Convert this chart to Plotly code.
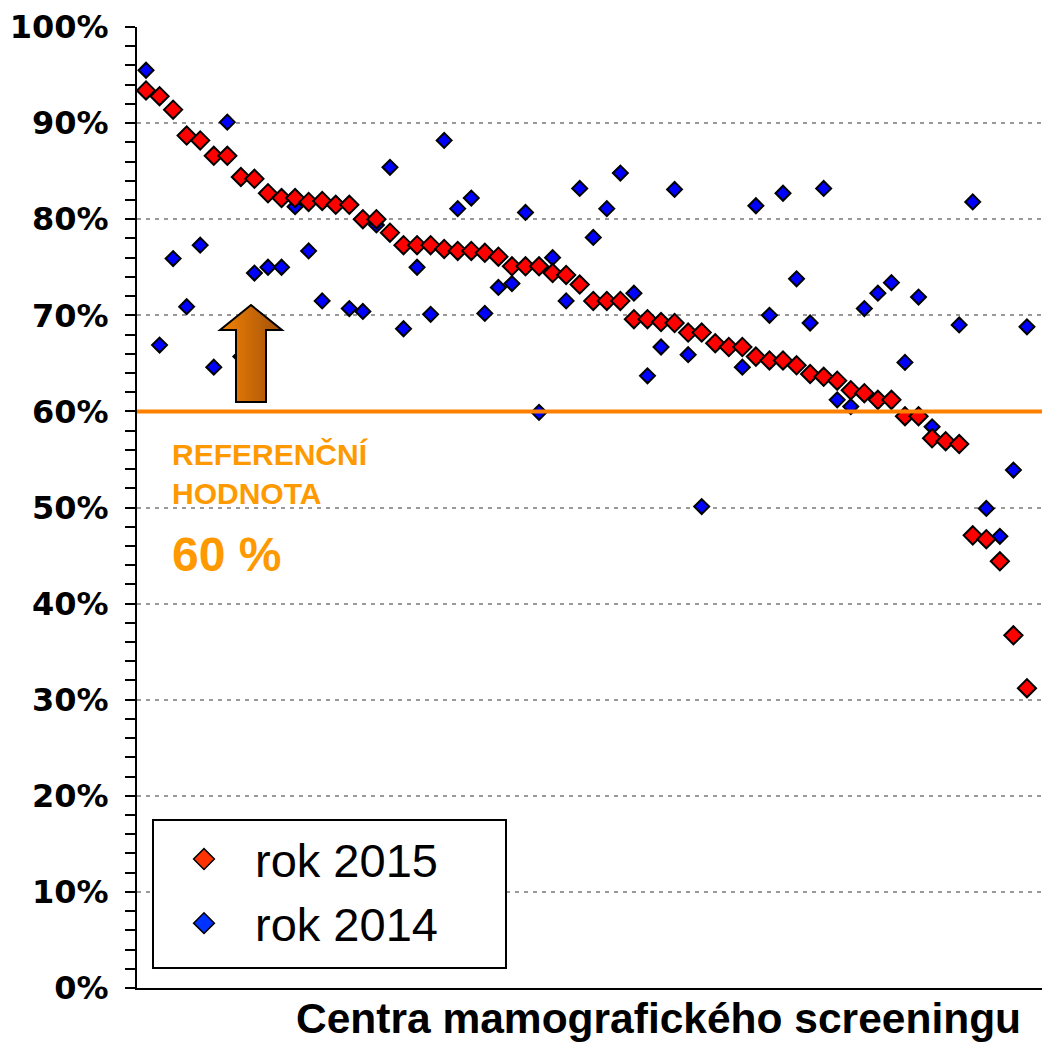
import plotly.graph_objects as go

# ---------------- data ----------------
centers = list(range(1, 67))
rok_2015 = [93.4, 92.8, 91.4, 88.7, 88.2, 86.6, 86.6, 84.4, 84.2, 82.7,
            82.2, 82.2, 81.8, 81.9, 81.5, 81.5, 80.0, 80.0, 78.6, 77.3,
            77.3, 77.3, 76.9, 76.7, 76.7, 76.5, 76.1, 75.1, 75.1, 75.1,
            74.4, 74.2, 73.2, 71.5, 71.5, 71.5, 69.6, 69.6, 69.3, 69.2,
            68.2, 68.2, 67.1, 66.7, 66.7, 65.7, 65.3, 65.3, 64.8, 63.9,
            63.6, 63.2, 62.2, 61.9, 61.2, 61.2, 59.5, 59.5, 57.2, 56.9,
            56.6, 47.1, 46.7, 44.4, 36.7, 31.2]
rok_2014 = [95.5, 66.9, 75.9, 70.9, 77.3, 64.6, 90.1, 65.7, 74.4, 75.0,
            75.0, 81.3, 76.7, 71.5, 81.6, 70.7, 70.4, 79.4, 85.4, 68.6,
            75.0, 70.1, 88.2, 81.1, 82.2, 70.2, 72.9, 73.3, 80.7, 59.9,
            76.0, 71.5, 83.2, 78.1, 81.1, 84.8, 72.3, 63.7, 66.7, 83.1,
            65.9, 50.1, None, None, 64.6, 81.4, 70.0, 82.7, 73.8, 69.2,
            83.2, 61.2, 60.5, 70.7, 72.3, 73.4, 65.1, 71.9, 58.4, None,
            69.0, 81.8, 49.9, 47.0, 53.9, 68.8]
y_ticks = list(range(0, 101, 10))
y_ticklabels = [f"{v}%" for v in y_ticks]
reference_value = 60
series_names = ["rok 2015", "rok 2014"]

# page geometry (window pixels); the html body has an 8px margin
OFF = 8
WIN_W, WIN_H = 1050, 1043
PL, PR, PT, PB = 137, 1050, 27, 988          # plot area in window pixels
W, H = WIN_W - OFF, WIN_H - OFF
ML, MT = PL - OFF, PT - OFF
MR, MB = 0, H - (PB - OFF)
PW, PH = PR - PL, PB - PT


def to_paper(px, py):
    return (px - PL) / PW, (PB - py) / PH


fig = go.Figure()

# 2014 drawn first (underneath)
fig.add_trace(go.Scatter(
    x=centers, y=rok_2014, mode="markers", showlegend=False,
    marker=dict(symbol="diamond", size=11.5, color="#0000FF",
                line=dict(color="black", width=2)),
))
fig.add_trace(go.Scatter(
    x=centers, y=rok_2015, mode="markers", showlegend=False,
    marker=dict(symbol="diamond", size=14, color="#FF0000",
                line=dict(color="black", width=2)),
))
# legend entries
fig.add_trace(go.Scatter(
    x=[None], y=[None], mode="markers", name=series_names[0],
    marker=dict(symbol="diamond", size=16, color="#FF3300",
                line=dict(color="black", width=1.5)),
))
fig.add_trace(go.Scatter(
    x=[None], y=[None], mode="markers", name=series_names[1],
    marker=dict(symbol="diamond", size=16, color="#0033FF",
                line=dict(color="black", width=1.5)),
))

shapes = []
# reference line
shapes.append(dict(type="line", xref="paper", x0=0, x1=1, yref="y",
                   y0=reference_value, y1=reference_value,
                   line=dict(color="#FF8000", width=4), layer="above"))

# gradient arrow made of vertical strips
tip_x, tip_y = 251, 305
head_y, head_l, head_r = 330, 220, 282
shaft_l, shaft_r, shaft_b = 236, 266, 402


def top_y(x):
    return tip_y + abs(x - tip_x) / (tip_x - head_l) * (head_y - tip_y)


c0 = (245, 132, 5)
c1 = (160, 80, 10)
breaks = []
for a, b in [(head_l, shaft_l), (shaft_l, tip_x), (tip_x, shaft_r), (shaft_r, head_r)]:
    n = 6
    for i in range(n):
        breaks.append((a + (b - a) * i / n, a + (b - a) * (i + 1) / n))
for xa, xb in breaks:
    t = ((xa + xb) / 2 - head_l) / (head_r - head_l)
    col = "rgb({},{},{})".format(*[int(round(c0[k] + (c1[k] - c0[k]) * t)) for k in range(3)])
    bottom = shaft_b if (xa >= shaft_l - 0.01 and xb <= shaft_r + 0.01) else head_y
    pts = [(xa, top_y(xa)), (xb, top_y(xb)), (xb, bottom), (xa, bottom)]
    pp = [to_paper(*p) for p in pts]
    path = "M" + " L".join(f"{x:.5f},{y:.5f}" for x, y in pp) + " Z"
    shapes.append(dict(type="path", xref="paper", yref="paper", path=path,
                       fillcolor=col, line=dict(color=col, width=1), layer="above"))
outline = [(head_l, head_y), (tip_x, tip_y), (head_r, head_y), (shaft_r, head_y),
           (shaft_r, shaft_b), (shaft_l, shaft_b), (shaft_l, head_y)]
pp = [to_paper(*p) for p in outline]
shapes.append(dict(type="path", xref="paper", yref="paper",
                   path="M" + " L".join(f"{x:.5f},{y:.5f}" for x, y in pp) + " Z",
                   line=dict(color="black", width=2), layer="above"))

# legend frame
lx0, ly0 = to_paper(153, 968)
lx1, ly1 = to_paper(506, 820)
shapes.append(dict(type="rect", xref="paper", yref="paper",
                   x0=lx0, y0=ly0, x1=lx1, y1=ly1,
                   fillcolor="white", line=dict(color="black", width=2), layer="above"))

annotations = [
    dict(text="<b>REFERENČNÍ<br>HODNOTA</b>", xref="paper", yref="y",
         x=to_paper(170, 0)[0], y=53.5, xanchor="left", yanchor="middle",
         align="left", showarrow=False,
         font=dict(family="Liberation Sans, Arial", size=30, color="#FF9900")),
    dict(text="<b>60 %</b>", xref="paper", yref="y",
         x=to_paper(170, 0)[0], y=45.1, xanchor="left", yanchor="middle",
         showarrow=False,
         font=dict(family="Liberation Sans, Arial", size=48, color="#FF9900")),
    dict(text="<b>Centra mamografického screeningu</b>", xref="paper", yref="paper",
         x=to_paper(1023, 0)[0], y=to_paper(0, 1018)[1], xanchor="right", yanchor="middle",
         showarrow=False,
         font=dict(family="Liberation Sans, Arial", size=42.5, color="black")),
]

fig.update_layout(
    width=W, height=H,
    margin=dict(l=ML, r=MR, t=MT, b=MB, pad=0),
    paper_bgcolor="white", plot_bgcolor="white",
    shapes=shapes, annotations=annotations,
    showlegend=True,
    legend=dict(x=to_paper(153, 0)[0], y=to_paper(0, 822)[1],
                xanchor="left", yanchor="top",
                bgcolor="rgba(0,0,0,0)", borderwidth=0,
                itemwidth=92,
                font=dict(family="Liberation Sans, Arial", size=47, color="black")),
    xaxis=dict(range=[0.336, 67.7], showticklabels=False, ticks="",
               showgrid=False, zeroline=False,
               showline=True, linecolor="black", linewidth=2),
    yaxis=dict(range=[0, 100], tickvals=y_ticks, ticktext=y_ticklabels,
               ticks="outside", ticklen=10, tickwidth=1.5, tickcolor="black",
               ticklabelstandoff=10,
               minor=dict(dtick=2, ticks="outside", ticklen=10, tickwidth=1.5,
                          tickcolor="black", showgrid=False),
               showgrid=True, gridcolor="#999999", gridwidth=2, griddash="4px,5px",
               zeroline=False, showline=True, linecolor="black", linewidth=2,
               tickfont=dict(family="DejaVu Sans", size=32, color="black", weight="bold")),
)

fig.write_html("out.html")
